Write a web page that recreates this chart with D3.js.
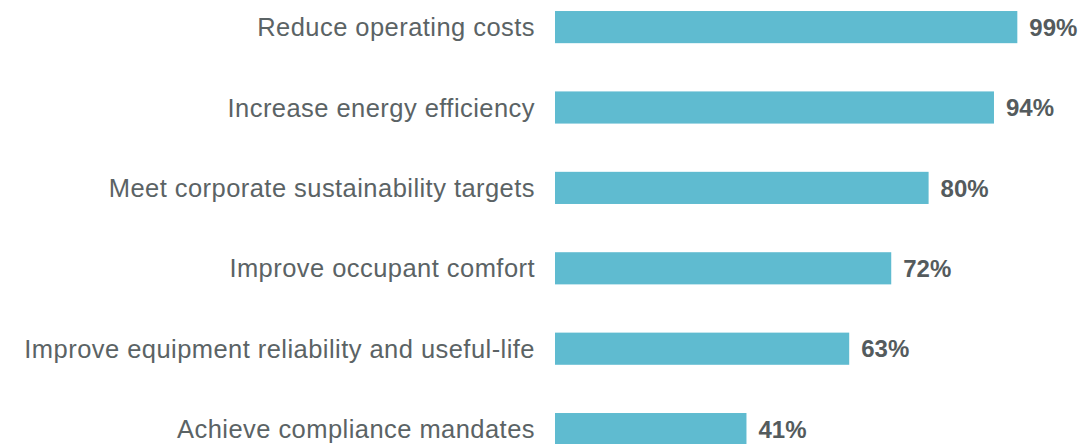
<!DOCTYPE html>
<html>
<head>
<meta charset="utf-8">
<script src="https://cdn.jsdelivr.net/npm/d3@7"></script>
<style>
  html, body { margin: 0; padding: 0; background: #ffffff; }
  svg { display: block; }
</style>
</head>
<body>
<div id="chart"></div>
<script>
const categories = [
  "Reduce operating costs",
  "Increase energy efficiency",
  "Meet corporate sustainability targets",
  "Improve occupant comfort",
  "Improve equipment reliability and useful-life",
  "Achieve compliance mandates"
];
const values = [99, 94, 80, 72, 63, 41];
const valueLabels = ["99%", "94%", "80%", "72%", "63%", "41%"];

const W = 1082, H = 444;
const svg = d3.select("#chart").append("svg").attr("width", W).attr("height", H);

const x = d3.scaleLinear().domain([0, 100]).range([555, 1022]);
const y = d3.scaleBand().domain(categories)
  .range([-13.1, 469.3]).paddingInner(0.6).paddingOuter(0.3);

const data = categories.map((c, i) => ({ c, v: values[i], l: valueLabels[i] }));

svg.selectAll("rect.bar").data(data).enter().append("rect")
  .attr("class", "bar")
  .attr("x", x(0))
  .attr("y", d => y(d.c))
  .attr("width", d => x(d.v) - x(0))
  .attr("height", y.bandwidth())
  .attr("fill", "#5fbbd0");

svg.selectAll("text.cat").data(data).enter().append("text")
  .attr("class", "cat")
  .attr("x", 535)
  .attr("y", d => y(d.c) + y.bandwidth() / 2)
  .attr("dy", "0.36em")
  .attr("text-anchor", "end")
  .attr("font-family", "Liberation Sans, Arial, sans-serif")
  .attr("font-size", 25.5)
  .attr("letter-spacing", "0.45px")
  .attr("fill", "#5b6365")
  .text(d => d.c);

svg.selectAll("text.val").data(data).enter().append("text")
  .attr("class", "val")
  .attr("x", d => x(d.v) + 12)
  .attr("y", d => y(d.c) + y.bandwidth() / 2)
  .attr("dy", "0.36em")
  .attr("font-family", "Liberation Sans, Arial, sans-serif")
  .attr("font-weight", "bold")
  .attr("font-size", 24)
  .attr("fill", "#545b5d")
  .text(d => d.l);
</script>
</body>
</html>
